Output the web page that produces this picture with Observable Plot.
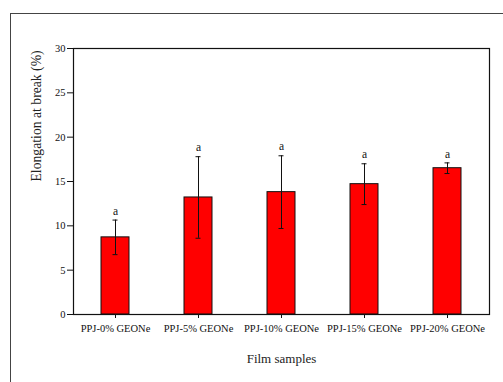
<!DOCTYPE html>
<html>
<head>
<meta charset="utf-8">
<script src="https://cdn.jsdelivr.net/npm/d3@7"></script>
<script src="https://cdn.jsdelivr.net/npm/@observablehq/plot@0.6"></script>
<style>
  html, body { margin: 0; padding: 0; background: #fff; }
  #wrap { position: relative; width: 503px; height: 382px; overflow: hidden; }
  #outer { position: absolute; left: 10px; top: 13px; width: 600px; height: 500px;
           border-left: 1.5px solid #444; border-top: 1.5px solid #444; }
  #chart { position: absolute; left: 0; top: 0; }
</style>
</head>
<body>
<div id="wrap"><div id="outer"></div><div id="chart"></div></div>
<script>
const samples = ["PPJ-0% GEONe", "PPJ-5% GEONe", "PPJ-10% GEONe", "PPJ-15% GEONe", "PPJ-20% GEONe"];
const elongation = [8.7, 13.2, 13.8, 14.7, 16.5];
const sd = [1.95, 4.6, 4.1, 2.3, 0.6];
const letters = ["a", "a", "a", "a", "a"];
const yTicks = [0, 5, 10, 15, 20, 25, 30];

const data = samples.map((s, i) => ({
  sample: s, value: elongation[i], lo: elongation[i] - sd[i], hi: elongation[i] + sd[i], letter: letters[i]
}));

const font = "'Liberation Serif', 'Times New Roman', serif";

const chart = Plot.plot({
  width: 503,
  height: 382,
  marginLeft: 73,
  marginRight: 14,
  marginTop: 48,
  marginBottom: 68,
  style: { fontFamily: font, fontSize: "10.5px", color: "#111", background: "transparent" },
  x: { domain: samples, paddingInner: 0.66, paddingOuter: 0.33, align: 0.5, label: null },
  y: { domain: [0, 30], label: null },
  marks: [
    Plot.barY(data, { x: "sample", y: "value", fill: "#ff0000", stroke: "#111", strokeWidth: 1 }),
    Plot.ruleX(data, { x: "sample", y1: "lo", y2: "hi", stroke: "#111", strokeWidth: 1 }),
    Plot.tickY(data, { x: "sample", y: "hi", stroke: "#111", strokeWidth: 1, insetLeft: 11.5, insetRight: 11.5 }),
    Plot.tickY(data, { x: "sample", y: "lo", stroke: "#111", strokeWidth: 1, insetLeft: 11.5, insetRight: 11.5 }),
    Plot.text(data, { x: "sample", y: "hi", text: "letter", dy: -9, fontSize: 11.5, fill: "#111" }),
    Plot.axisY({ ticks: yTicks, tickSize: 6, tickPadding: 2, fontSize: 10.5, label: null }),
    Plot.axisX({ tickSize: 4, tickPadding: 6, fontSize: 10.5, label: null }),
    Plot.frame({ stroke: "#111", strokeWidth: 1.2 }),
    Plot.text(["Elongation at break (%)"], { frameAnchor: "left", dx: -37, rotate: -90, fontSize: 13.7, fill: "#222", lineAnchor: "middle" }),
    Plot.text(["Film samples"], { frameAnchor: "bottom", dy: 44, fontSize: 13, fill: "#222", lineAnchor: "middle" })
  ]
});
document.getElementById("chart").appendChild(chart);
</script>
</body>
</html>
